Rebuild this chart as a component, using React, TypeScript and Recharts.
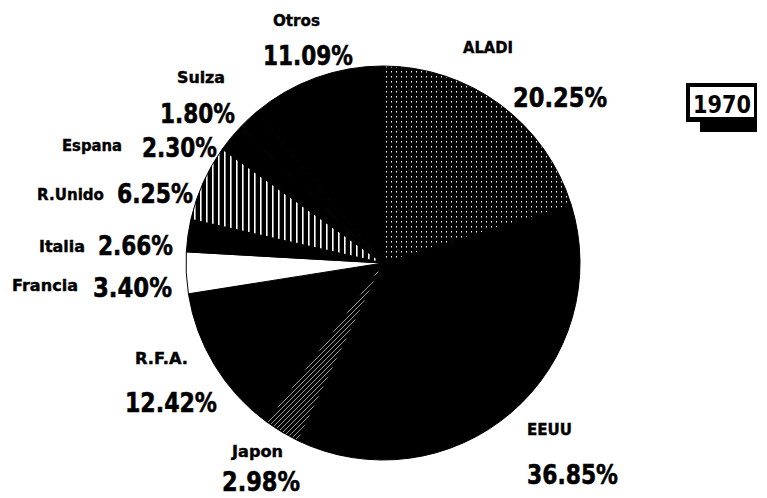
import { Cell, Pie, PieChart } from 'recharts';

const SLICE_NAMES = ['ALADI', 'EEUU', 'Japon', 'R.F.A.', 'Francia', 'Italia', 'R.Unido', 'Espana', 'Suiza', 'Otros'];
const SLICE_SHARES = [20.25, 36.85, 2.98, 12.42, 3.4, 2.66, 6.25, 2.3, 1.8, 11.09];
const YEAR_TAG = '1970';

const W = 767;
const H = 498;

// fills imitate the scanned hatching
const FILLS: Record<string, string> = {
  ALADI: 'url(#dots)',
  Japon: 'url(#diag)',
  Francia: '#ffffff',
  'R.Unido': 'url(#vstripes)',
};

// where each label block sits (name line, then value line)
const LABEL_LAYOUT: Record<string, { nx: number; ny: number; nw: number; vx: number; vy: number; vw: number }> = {
  ALADI: { nx: 463, ny: 53, nw: 50, vx: 513, vy: 107, vw: 94 },
  EEUU: { nx: 527, ny: 435, nw: 45, vx: 527, vy: 484, vw: 91 },
  Japon: { nx: 232, ny: 457, nw: 51, vx: 222, vy: 491, vw: 78 },
  'R.F.A.': { nx: 135, ny: 364, nw: 53, vx: 125, vy: 412, vw: 92 },
  Francia: { nx: 12, ny: 291, nw: 66, vx: 93, vy: 297, vw: 79 },
  Italia: { nx: 39, ny: 252, nw: 46, vx: 98, vy: 255, vw: 75 },
  'R.Unido': { nx: 37, ny: 200, nw: 67, vx: 117, vy: 203, vw: 76 },
  Espana: { nx: 62, ny: 151, nw: 60, vx: 142, vy: 157, vw: 75 },
  Suiza: { nx: 177, ny: 83, nw: 48, vx: 160, vy: 123, vw: 75 },
  Otros: { nx: 273, ny: 26, nw: 47, vx: 263, vy: 65, vw: 90 },
};

const data = SLICE_NAMES.map((name, i) => ({ name, value: SLICE_SHARES[i] }));

const FONT = "'DejaVu Sans', sans-serif";

function renderLabel(props: any) {
  const pos = LABEL_LAYOUT[props.name];
  if (!pos) return null;
  return (
    <g key={props.name}>
      <text
        x={pos.nx}
        y={pos.ny}
        fontFamily={FONT}
        fontWeight="bold"
        fontSize={15}
        fill="#000"
        stroke="#000"
        strokeWidth={0.4}
        textLength={pos.nw}
        lengthAdjust="spacingAndGlyphs"
      >
        {props.name}
      </text>
      <text
        x={pos.vx}
        y={pos.vy}
        fontFamily={FONT}
        fontWeight="bold"
        fontSize={27}
        fill="#000"
        stroke="#000"
        strokeWidth={0.6}
        textLength={pos.vw}
        lengthAdjust="spacingAndGlyphs"
      >
        {`${Number(props.value).toFixed(2)}%`}
      </text>
    </g>
  );
}

export default function App() {
  return (
    <div style={{ position: 'absolute', left: 0, top: 0, width: W, height: H, background: '#fff' }}>
      <svg width={0} height={0} style={{ position: 'absolute' }}>
        <defs>
          <pattern id="dots" patternUnits="userSpaceOnUse" width={5} height={5}>
            <rect width={5} height={5} fill="#000" />
            <rect x={1} y={1} width={1} height={1.5} fill="#fff" />
          </pattern>
          <pattern id="vstripes" patternUnits="userSpaceOnUse" width={6} height={6}>
            <rect width={6} height={6} fill="#000" />
            <rect x={2} width={1.6} height={6} fill="#fff" />
          </pattern>
          <pattern id="diag" patternUnits="userSpaceOnUse" width={5} height={5}>
            <rect width={5} height={5} fill="#000" />
            <line x1={0} y1={5} x2={5} y2={0} stroke="#fff" strokeWidth={0.6} />
          </pattern>
        </defs>
      </svg>
      <PieChart width={W} height={H} margin={{ top: 0, right: 0, bottom: 0, left: 0 }}>
        <Pie
          data={data}
          dataKey="value"
          nameKey="name"
          cx={383}
          cy={263}
          outerRadius={197}
          startAngle={90}
          endAngle={-270}
          stroke="#000"
          strokeWidth={1}
          labelLine={false}
          label={renderLabel}
          isAnimationActive={false}
        >
          {data.map((d) => (
            <Cell key={d.name} fill={FILLS[d.name] ?? '#000000'} />
          ))}
        </Pie>
      </PieChart>
      <svg width={W} height={H} style={{ position: 'absolute', left: 0, top: 0, pointerEvents: 'none' }}>
        <rect x={686} y={83} width={71} height={39} fill="#000" />
        <rect x={690} y={87} width={64} height={30} fill="#fff" />
        <text
          x={722}
          y={113}
          textAnchor="middle"
          fontFamily={FONT}
          fontWeight="bold"
          fontSize={25}
          textLength={58}
          lengthAdjust="spacingAndGlyphs"
          fill="#000"
        >
          {YEAR_TAG}
        </text>
        <rect x={700} y={120} width={57} height={12} fill="#000" />
      </svg>
    </div>
  );
}
